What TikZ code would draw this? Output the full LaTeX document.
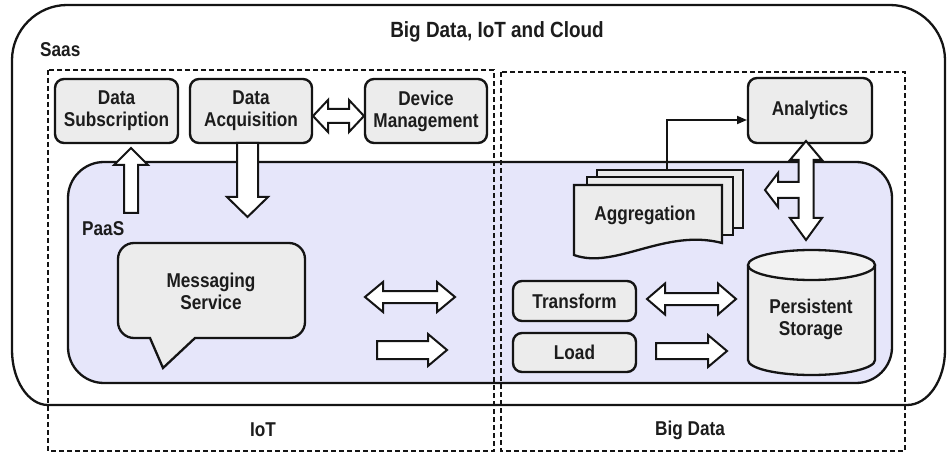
\documentclass[tikz,border=0pt]{standalone}
\usepackage{fontspec}
\setmainfont{Liberation Sans}[FakeStretch=0.86]
\usetikzlibrary{arrows.meta}
\definecolor{lav}{RGB}{230,230,250}
\definecolor{boxfill}{RGB}{236,236,236}
\definecolor{linec}{RGB}{20,20,20}
\definecolor{textc}{RGB}{28,28,28}
\newcommand\hdbl[6]{\draw[barrow] (#1,#3) -- ({#1+#4},{#3-#5}) -- ({#1+#4},{#3-#6}) -- ({#2-#4},{#3-#6}) -- ({#2-#4},{#3-#5}) -- (#2,#3) -- ({#2-#4},{#3+#5}) -- ({#2-#4},{#3+#6}) -- ({#1+#4},{#3+#6}) -- ({#1+#4},{#3+#5}) -- cycle;}
\newcommand\hsgl[6]{\draw[barrow] (#1,{#3-#6}) -- ({#2-#4},{#3-#6}) -- ({#2-#4},{#3-#5}) -- (#2,#3) -- ({#2-#4},{#3+#5}) -- ({#2-#4},{#3+#6}) -- (#1,{#3+#6}) -- cycle;}
\newcommand\vup[6]{\draw[barrow] ({#1-#6},#2) -- ({#1-#6},{#3+#4}) -- ({#1-#5},{#3+#4}) -- (#1,#3) -- ({#1+#5},{#3+#4}) -- ({#1+#6},{#3+#4}) -- ({#1+#6},#2) -- cycle;}
\newcommand\vdown[6]{\draw[barrow] ({#1-#6},#2) -- ({#1-#6},{#3-#4}) -- ({#1-#5},{#3-#4}) -- (#1,#3) -- ({#1+#5},{#3-#4}) -- ({#1+#6},{#3-#4}) -- ({#1+#6},#2) -- cycle;}
\begin{document}
\begin{tikzpicture}[x=1pt,y=-1pt]
\tikzset{
  lbl/.style={font=\bfseries\fontsize{20}{22}\selectfont, text=textc, align=center, inner sep=0pt},
  box/.style={lbl, draw=linec, fill=boxfill, line width=2.4pt, rounded corners=9pt},
  barrow/.style={draw=linec, fill=white, line width=2pt, line join=miter},
  dbox/.style={draw=linec, line width=2.6pt, dash pattern=on 5pt off 3pt},
  flow/.style={draw=linec, line width=1.8pt, -{Triangle[length=10pt,width=8pt]}},
  shapeline/.style={draw=linec, line width=2.3pt},
}
\useasboundingbox (0,0) rectangle (947,454);
% outer cloud box
\draw[shapeline, fill=white] (67,5) -- (890,5) .. controls (920,5) and (945,30) .. (945,60) -- (945,350)
  .. controls (945,380) and (928,405) .. (907,405) -- (48,405)
  .. controls (28,405) and (12,380) .. (12,350) -- (12,60) .. controls (12,30) and (37,5) .. (67,5) -- cycle;
% PaaS area
\draw[shapeline, fill=lav, rounded corners=36pt] (68,162) rectangle (892,383);
% dashed areas
\draw[dbox] (48,70) rectangle (494,451);
\draw[dbox] (501,72) rectangle (905,451);
% boxes
\node[box, minimum width=123pt, minimum height=64pt] (ds) at (116.5,111) {Data\\Subscription};
\node[box, minimum width=122pt, minimum height=64pt] (da) at (251,111) {Data\\Acquisition};
\node[box, minimum width=122pt, minimum height=64pt] (dm) at (426,111) {Device\\Management};
\node[box, minimum width=124pt, minimum height=65pt] (ana) at (810,110.5) {Analytics};
\node[box, minimum width=123pt, minimum height=40pt] (tr) at (574.5,301) {Transform};
\node[box, minimum width=123pt, minimum height=39pt] (ld) at (574.5,352.5) {Load};
% messaging bubble
\draw[shapeline, fill=boxfill] (195,338) -- (163,368) -- (150,338) {[rounded corners=16pt] -- (118,338) -- (118,243) -- (305,243) -- (305,338)} -- cycle;
\node[lbl] (msg) at (211,291) {Messaging\\Service};
% aggregation documents
\draw[shapeline, fill=boxfill] (597,170) rectangle (743,228);
\draw[shapeline, fill=boxfill] (587,177) rectangle (733,235);
\draw[shapeline, fill=boxfill] (574,185) -- (722,185) -- (722,243) .. controls (665,228) and (615,270) .. (574,255) -- cycle;
\node[lbl] (agg) at (645,215) {Aggregation};
% persistent storage cylinder
\draw[shapeline, fill=boxfill] (748,265) -- (748,360) .. controls (748,368.3) and (776.4,375) .. (811.5,375)
  .. controls (846.6,375) and (875,368.3) .. (875,360) -- (875,265);
\draw[shapeline, fill=boxfill!70!white] (811.5,265) ellipse [x radius=63.5pt, y radius=15pt];
\node[lbl] (ps) at (811,319) {Persistent\\Storage};
% flow arrow aggregation -> analytics
\coordinate (aggtop) at (667,170);
\coordinate (anain) at (747,120);
\draw[flow] (aggtop) |- (anain);
% block arrows
\hdbl{313}{364}{116}{15}{16}{7}
\vup{131}{213}{148}{17}{17}{7}
\vdown{247.5}{143}{217}{20}{20.5}{10.5}
\hdbl{365}{455}{297}{18}{15}{6}
\hsgl{377}{447}{350}{19}{16}{9}
\hdbl{647}{736}{299}{18}{15.5}{6}
\hsgl{656}{727}{351}{19}{16}{8}
\draw[barrow] (806,141) -- (822,160) -- (813.5,160) -- (813.5,218) -- (822,218) -- (806,240) -- (790,218) -- (798.5,218)
  -- (798.5,198) -- (778,198) -- (778,207) -- (765,190) -- (778,173) -- (778,182) -- (798.5,182) -- (798.5,160) -- (790,160) -- cycle;
% labels
\node[lbl, font=\bfseries\fontsize{22}{24}\selectfont] (title) at (497,32) {Big Data, IoT and Cloud};
\node[lbl, anchor=west] (saas) at (40,50) {Saas};
\node[lbl, anchor=west] (paas) at (82,229) {PaaS};
\node[lbl] (iot) at (263,430) {IoT};
\node[lbl] (bd) at (690,430) {Big Data};
\end{tikzpicture}
\end{document}
